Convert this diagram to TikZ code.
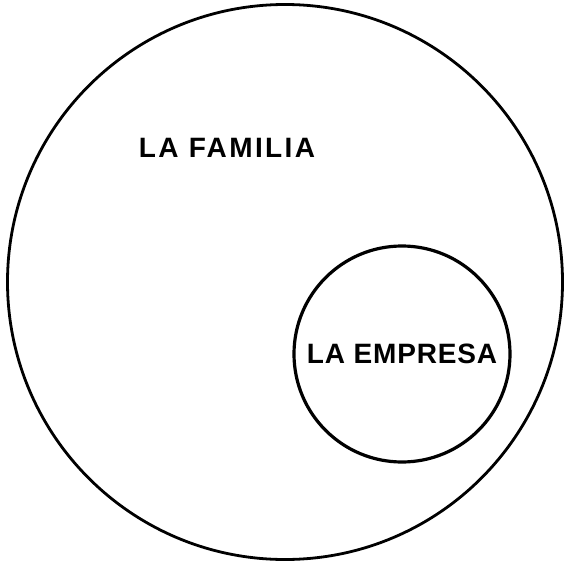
\documentclass[tikz,border=0pt]{standalone}
\usepackage{fontspec}
\setmainfont{Liberation Sans}
\usepackage{tikz}
\usetikzlibrary{shapes,positioning}
\newfontfamily\famfont[LetterSpace=8.5]{Liberation Sans}
\newfontfamily\empfont[LetterSpace=3]{Liberation Sans}
\tikzset{set/.style={circle,draw,inner sep=0pt,font=\empfont\bfseries\fontsize{28}{32}\selectfont}}
\tikzset{lbl/.style={inner sep=0pt,font=\famfont\bfseries\fontsize{28}{32}\selectfont}}

\begin{document}
\begin{tikzpicture}[x=1pt,y=-1pt]
    \useasboundingbox (0,0) rectangle (565,562);
    \node[set,line width=2.8pt,minimum size=555pt] (familia) at (285,282) {};
    \node[set,line width=3.2pt,minimum size=216pt] (empresa) at (402,354) {LA EMPRESA};
    \node[lbl] (fam) at (227,148) {LA FAMILIA};
\end{tikzpicture}
\end{document}
